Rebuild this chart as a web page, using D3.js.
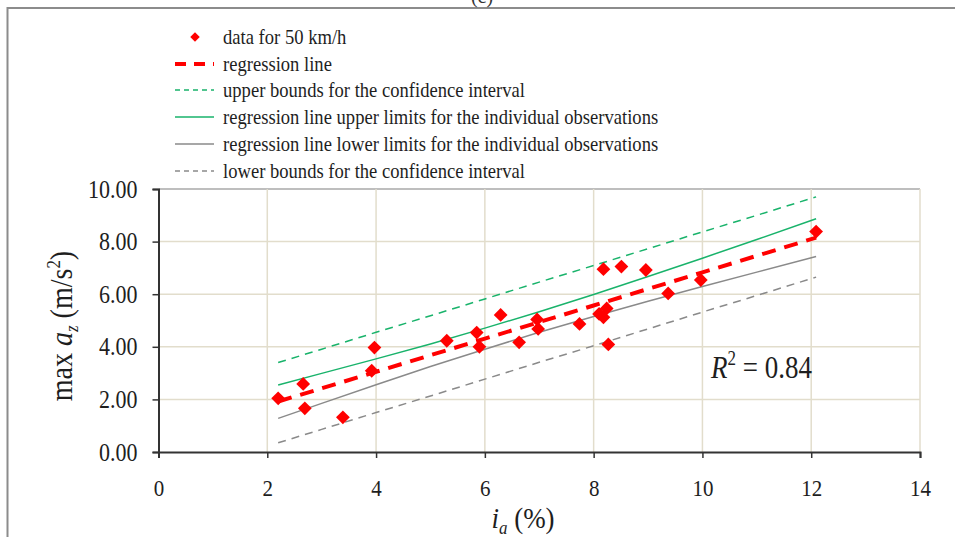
<!DOCTYPE html>
<html>
<head>
<meta charset="utf-8">
<script src="https://cdn.jsdelivr.net/npm/d3@7"></script>
<style>
  html, body { margin: 0; padding: 0; background: #fff; }
  svg { display: block; }
  svg text { font-family: "Liberation Serif", "Times New Roman", serif; }
</style>
</head>
<body>
<svg id="chart" width="955" height="537"></svg>
<script>
// Observations: road gradient i_a (%) vs. maximum vertical acceleration (m/s²)
const obsX = [2.20, 2.66, 2.69, 3.39, 3.92, 3.97, 5.30, 5.85, 5.90, 6.29, 6.63, 6.96, 6.98,
              7.74, 8.10, 8.18, 8.18, 8.24, 8.27, 8.51, 8.96, 9.37, 9.97, 12.09];
const obsY = [2.04, 2.59, 1.66, 1.32, 3.09, 3.97, 4.23, 4.54, 4.00, 5.21, 4.17, 5.04, 4.68,
              4.87, 5.25, 6.95, 5.12, 5.46, 4.09, 7.05, 6.92, 6.03, 6.54, 8.38];

// Fitted lines, sampled along the gradient range
const lineX      = [2.20, 3.00, 4.00, 5.00, 6.00, 7.00, 8.00, 9.00, 10.00, 11.00, 12.09];
const regression = [1.92, 2.42, 3.05, 3.68, 4.31, 4.94, 5.57, 6.20, 6.83, 7.46, 8.15];
const ciUpper    = [3.40, 3.91, 4.55, 5.18, 5.82, 6.46, 7.09, 7.73, 8.37, 9.00, 9.70];
const ciLower    = [0.35, 0.86, 1.50, 2.13, 2.77, 3.41, 4.04, 4.68, 5.32, 5.95, 6.65];
const obsUpper   = [2.55, 2.99, 3.54, 4.11, 4.71, 5.33, 5.99, 6.67, 7.37, 8.08, 8.87];
const obsLower   = [1.28, 1.85, 2.56, 3.25, 3.91, 4.55, 5.15, 5.73, 6.29, 6.84, 7.43];

const xTicks = [0, 2, 4, 6, 8, 10, 12, 14];
const yTicks = [0, 2, 4, 6, 8, 10];

const legendLabels = [
  "data for 50 km/h",
  "regression line",
  "upper bounds for the confidence interval",
  "regression line upper limits for the individual observations",
  "regression line lower limits for the individual observations",
  "lower bounds for the confidence interval"
];

const RED = "#ff0000", GREEN = "#19b36b", GREY = "#8a8a8a";
const lineStyles = [
  null,
  { color: RED,   width: 4,   dash: "14,9" },
  { color: GREEN, width: 1.5, dash: "8,6" },
  { color: GREEN, width: 1.5, dash: null },
  { color: GREY,  width: 1.5, dash: null },
  { color: GREY,  width: 1.5, dash: "8,6" }
];
const lineData = [null, regression, ciUpper, obsUpper, obsLower, ciLower];

const svg = d3.select("#chart");
const W = 955, H = 537;
const margin = { left: 158.5, right: 35, top: 189, bottom: 85 };
const TXT = "#1e1e1e";
const STRETCH = 1.12;   // the typeface is set slightly tall

const x = d3.scaleLinear().domain([0, 14]).range([margin.left, W - margin.right]);
const y = d3.scaleLinear().domain([0, 10]).range([H - margin.bottom, margin.top]);

// outer frame (runs off the right and bottom edges)
svg.append("rect")
  .attr("x", 7.5).attr("y", 8).attr("width", 1000).attr("height", 600)
  .attr("fill", "none").attr("stroke", "#8c8c8c").attr("stroke-width", 2);

// panel tag, mostly hidden above the top edge
svg.append("text").attr("x", 482).attr("y", 3).attr("text-anchor", "middle")
  .attr("font-size", 20).attr("fill", "#333").text("(c)");

// grid
const grid = svg.append("g");
grid.selectAll("line.h").data(yTicks.filter(d => d > 0)).join("line")
  .attr("x1", x(0)).attr("x2", x(14))
  .attr("y1", d => y(d)).attr("y2", d => y(d))
  .attr("stroke", d => d === 10 ? "#a8a8a8" : "#e2ddcc").attr("stroke-width", 1.5);
grid.selectAll("line.v").data(xTicks.filter(d => d > 0)).join("line")
  .attr("x1", d => x(d)).attr("x2", d => x(d))
  .attr("y1", y(0)).attr("y2", y(10))
  .attr("stroke", "#e2ddcc").attr("stroke-width", 1.5);

// axes
const xAxis = svg.append("g").attr("transform", `translate(0,${y(0)})`)
  .call(d3.axisBottom(x).tickValues(xTicks).tickFormat(d3.format("d")).tickSize(6).tickPadding(0));
const yAxis = svg.append("g").attr("transform", `translate(${x(0)},0)`)
  .call(d3.axisLeft(y).tickValues(yTicks).tickFormat(d3.format(".2f")).tickSize(6).tickPadding(15));
[xAxis, yAxis].forEach(a => {
  a.attr("font-family", null);
  a.select(".domain").attr("stroke", "#333").attr("stroke-width", 2);
  a.selectAll(".tick line").attr("stroke", "#333").attr("stroke-width", 1.5);
  a.selectAll(".tick text").attr("fill", TXT);
});
xAxis.selectAll(".tick text").attr("font-size", 21).attr("dy", null)
  .attr("y", 0).attr("transform", `translate(0,44) scale(1,${STRETCH})`);
yAxis.selectAll(".tick text").attr("font-size", 22).attr("dy", null).attr("y", 0)
  .attr("transform", `translate(0,8) scale(1,${STRETCH})`);

// fitted lines
const line = d3.line().x((d, i) => x(lineX[i])).y(d => y(d));
[5, 4, 2, 3, 1].forEach(k => {
  const s = lineStyles[k];
  svg.append("path").datum(lineData[k])
    .attr("d", line).attr("fill", "none")
    .attr("stroke", s.color).attr("stroke-width", s.width)
    .attr("stroke-dasharray", s.dash);
});

// observations
const diamond = d3.symbol().type(d3.symbolSquare).size(95);
svg.append("g").selectAll("path").data(obsX).join("path")
  .attr("d", diamond)
  .attr("transform", (d, i) => `translate(${x(d)},${y(obsY[i])}) rotate(45)`)
  .attr("fill", RED);

// legend
const legend = svg.append("g");
const rowY = [37, 64, 90, 117, 144, 171];
legendLabels.forEach((lab, i) => {
  const g = legend.append("g").attr("transform", `translate(0,${rowY[i]})`);
  if (i === 0) {
    g.append("path").attr("d", d3.symbol().type(d3.symbolSquare).size(45))
      .attr("transform", "translate(195,0) rotate(45)").attr("fill", RED);
  } else {
    const s = lineStyles[i];
    g.append("line").attr("x1", 175).attr("x2", 214).attr("y1", 0).attr("y2", 0)
      .attr("stroke", s.color).attr("stroke-width", s.width)
      .attr("stroke-dasharray", i === 1 ? "11,8" : s.dash ? "5,4" : null);
  }
  g.append("text").attr("transform", `translate(223,7) scale(1,${STRETCH})`)
    .attr("font-size", 18.6).attr("fill", TXT).text(lab);
});

// y-axis title: max a_z (m/s²)
const yt = svg.append("text")
  .attr("transform", `translate(72,326) rotate(-90) scale(1,${STRETCH})`)
  .attr("text-anchor", "middle").attr("font-size", 28).attr("fill", TXT);
yt.append("tspan").text("max ");
yt.append("tspan").attr("font-style", "italic").text("a");
yt.append("tspan").attr("font-style", "italic").attr("font-size", 17).attr("dy", 5).text("z");
yt.append("tspan").attr("dy", -5).text(" (m/s");
yt.append("tspan").attr("font-size", 17).attr("dy", -11).text("2");
yt.append("tspan").attr("dy", 11).text(")");

// x-axis title: i_a (%)
const xt = svg.append("text").attr("transform", `translate(523,528) scale(1,${STRETCH})`)
  .attr("text-anchor", "middle").attr("font-size", 27).attr("fill", TXT);
xt.append("tspan").attr("font-style", "italic").text("i");
xt.append("tspan").attr("font-style", "italic").attr("font-size", 17).attr("dy", 5).text("a");
xt.append("tspan").attr("dy", -5).text(" (%)");

// coefficient of determination
const r2 = svg.append("text").attr("transform", `translate(711,378) scale(1,1.2)`)
  .attr("font-size", 27).attr("fill", TXT);
r2.append("tspan").attr("font-style", "italic").text("R");
r2.append("tspan").attr("font-size", 17).attr("dy", -11).text("2");
r2.append("tspan").attr("dy", 11).text(" = 0.84");
</script>
</body>
</html>
